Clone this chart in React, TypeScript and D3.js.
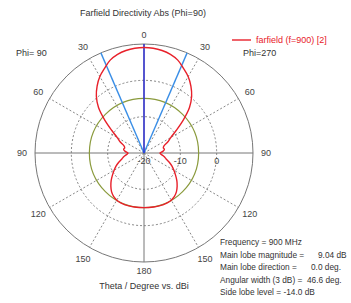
import { lineRadial, curveCatmullRom, scaleLinear } from "d3";

const WIDTH = 351;
const HEIGHT = 303;
const CX = 144;
const CY = 153;
const R_OUTER = 109;

// theta (deg) and directivity (dBi) for one half of the cut
const thetaDeg = [0, 5, 10, 15, 20, 25, 30, 35, 40, 45, 50, 55, 60, 65, 70, 75, 80, 85, 90, 95, 100, 105, 110, 115, 120, 125, 130, 135, 140, 145, 150, 155, 160, 165, 170, 175, 180];
const dirPhi270 = [9.04, 8.95, 8.65, 8.1, 7.2, 5.7, 4.3, 2.5, 0.4, -2.3, -5.9, -9.2, -11.5, -12.8, -14.1, -14.5, -14.3, -14.8, -15.6, -15.2, -14.4, -13.7, -12.6, -11.5, -10.5, -9.4, -8.2, -7.1, -6.1, -5.4, -5.0, -4.85, -4.8, -4.85, -4.9, -4.95, -4.96];
const dirPhi90 = [9.04, 8.95, 8.65, 8.1, 7.2, 5.7, 4.3, 2.5, 0.4, -2.3, -5.9, -9.2, -11.5, -12.8, -14.1, -14.5, -14.3, -14.8, -15.6, -15.2, -14.4, -13.7, -12.6, -11.5, -10.5, -9.4, -8.2, -7.1, -6.1, -5.4, -5.0, -4.85, -4.8, -4.85, -4.9, -4.95, -4.96];

const angleTicks = [30, 60, 90, 120, 150];
const radialTicks = [-20, -10, 0];
const gridCircles = [-10, 0];
const mainLobeDir = 0;
const beamWidth = 46.6;
const sideLobeLevel = -14.0;
const mainLobeMag = 9.04;

const infoLabels = ["Frequency = 900 MHz", "Main lobe magnitude =", "Main lobe direction =", "Angular width (3 dB) =", "Side lobe level =  -14.0 dB"];
const infoValues = ["", "9.04 dB", "0.0 deg.", "46.6 deg.", ""];

const FONT = "Liberation Sans, Arial, sans-serif";
const FS = 9;
const FS_INFO = 8.3;
const rad = (d: number) => (d * Math.PI) / 180;

export default function App() {
  const r = scaleLinear().domain([-20, 10]).range([0, R_OUTER]);

  const pts: [number, number][] = [
    ...thetaDeg
      .slice()
      .reverse()
      .map((t, i) => [-t, dirPhi90[thetaDeg.length - 1 - i]] as [number, number]),
    ...thetaDeg.slice(1).map((t, i) => [t, dirPhi270[i + 1]] as [number, number]),
  ];

  const curve = lineRadial<[number, number]>()
    .angle((d) => rad(d[0]))
    .radius((d) => r(d[1]))
    .curve(curveCatmullRom)(pts);

  const polar = (deg: number, rr: number) => [CX + rr * Math.sin(rad(deg)), CY - rr * Math.cos(rad(deg))];

  const dashedAngles = [30, 60, 120, 150, -30, -60, -120, -150];

  return (
    <svg
      width={WIDTH}
      height={HEIGHT}
      style={{ position: "absolute", left: 0, top: 0, background: "#fff" }}
      fontFamily={FONT}
    >
      <text x={143} y={16} fontSize={FS} fill="#333" textAnchor="middle">
        Farfield Directivity Abs (Phi=90)
      </text>

      {gridCircles.map((v) => (
        <circle key={v} cx={CX} cy={CY} r={r(v)} fill="none" stroke="#555" strokeWidth={0.7} strokeDasharray="2,2" />
      ))}
      {dashedAngles.map((a) => {
        const [x, y] = polar(a, R_OUTER);
        return <line key={a} x1={CX} y1={CY} x2={x} y2={y} stroke="#555" strokeWidth={0.7} strokeDasharray="2,2" />;
      })}
      <line x1={CX - R_OUTER} y1={CY} x2={CX + R_OUTER} y2={CY} stroke="#777" strokeWidth={1} />
      <line x1={CX} y1={CY - R_OUTER} x2={CX} y2={CY + R_OUTER} stroke="#777" strokeWidth={1} />
      <circle cx={CX} cy={CY} r={R_OUTER} fill="none" stroke="#777" strokeWidth={1} />

      <circle cx={CX} cy={CY} r={r(mainLobeMag + sideLobeLevel)} fill="none" stroke="#8a9a3c" strokeWidth={1.2} />

      {[-beamWidth / 2, beamWidth / 2].map((a) => {
        const [x, y] = polar(a, R_OUTER);
        return <line key={a} x1={CX} y1={CY} x2={x} y2={y} stroke="#3a8ee6" strokeWidth={1.4} />;
      })}
      {(() => {
        const [x, y] = polar(mainLobeDir, R_OUTER);
        return <line x1={CX} y1={CY} x2={x} y2={y} stroke="#2a2ad8" strokeWidth={1.4} />;
      })()}

      <path d={curve ?? ""} transform={`translate(${CX},${CY})`} fill="none" stroke="#e8202a" strokeWidth={1.4} />

      {radialTicks.map((v) => (
        <text key={v} x={CX + r(v)} y={CY + 11} fontSize={FS} fill="#444" textAnchor="middle">
          {v}
        </text>
      ))}

      {[0, 180].map((a) => {
        const [x, y] = polar(a, 118);
        return (
          <text key={a} x={x} y={y} fontSize={FS} fill="#444" textAnchor="middle" dominantBaseline="central">
            {a}
          </text>
        );
      })}
      {angleTicks.flatMap((a) =>
        [a, -a].map((s) => {
          const [x, y] = polar(s, 122);
          return (
            <text key={s} x={x} y={y} fontSize={FS} fill="#444" textAnchor="middle" dominantBaseline="central">
              {a}
            </text>
          );
        })
      )}

      <text x={16} y={56} fontSize={FS} fill="#333">Phi= 90</text>
      <text x={243} y={56} fontSize={FS} fill="#333">Phi=270</text>
      <line x1={232} y1={40} x2={251} y2={40} stroke="#e8202a" strokeWidth={1.4} />
      <text x={256} y={43} fontSize={FS} fill="#e8202a">farfield (f=900) [2]</text>

      {infoLabels.map((t, i) => (
        <text key={t} x={220} y={245 + i * 12.5} fontSize={FS_INFO} fill="#333">
          {t}
        </text>
      ))}
      {infoValues.map((t, i) =>
        t ? (
          <text key={i} x={[0, 318, 311, 307, 0][i]} y={245 + i * 12.5} fontSize={FS_INFO} fill="#333">
            {t}
          </text>
        ) : null
      )}

      <text x={144} y={289} fontSize={FS} fill="#333" textAnchor="middle">
        Theta / Degree vs. dBi
      </text>
    </svg>
  );
}
